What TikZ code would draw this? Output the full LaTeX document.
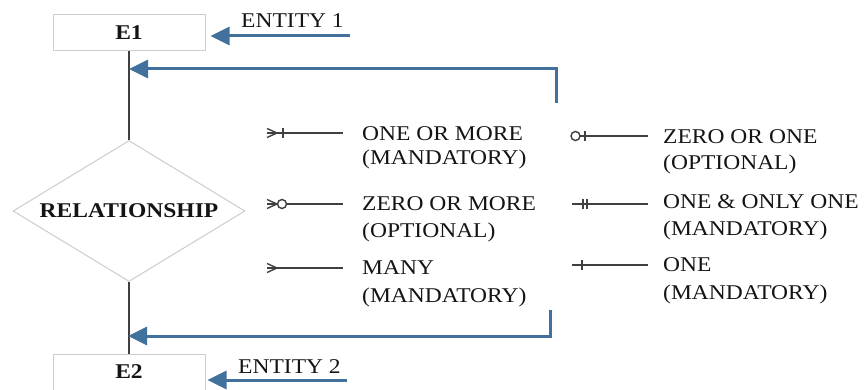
\documentclass[tikz,border=0pt]{standalone}
\usepackage{fontspec}
\setmainfont{Liberation Serif}[FakeStretch=1.12]
\usetikzlibrary{shapes.geometric,arrows.meta}
\definecolor{erblue}{RGB}{65,113,156}
\definecolor{erline}{RGB}{205,205,205}
\definecolor{ink}{RGB}{20,20,20}
\tikzset{
  entbox/.style={draw=erline,fill=white,line width=1pt,minimum width=152pt,minimum height=36pt,inner sep=0pt,text=ink,font=\bfseries\fontsize{21}{25}\selectfont},
  relbox/.style={diamond,draw=erline,fill=white,line width=1pt,aspect=1.645,minimum width=232pt,minimum height=141pt,inner sep=0pt,text=ink,font=\bfseries\fontsize{21}{25}\selectfont},
  lbl/.style={anchor=base west,inner sep=0pt,text=ink,font=\fontsize{21}{25}\selectfont},
  link/.style={draw=black!75,line width=1.5pt},
  sym/.style={draw=black!75,line width=1.4pt},
  back/.style={draw=erblue,line width=3pt,-{Triangle[length=19pt,width=18pt]}},
}
\begin{document}
\begin{tikzpicture}[x=1pt,y=-1pt]
  \useasboundingbox (0,0) rectangle (865,390);
  \def\crow{\draw[sym] (0,-4.5) -- (10,0) -- (0,4.5);}
  \def\tickmark#1{\draw[sym] (#1,-5) -- (#1,5);}
  \def\ring#1{\draw[sym,fill=white] (#1,0) circle (4.5);}
  % entities and relationship
  \node[entbox] (e1) at (129,32.5) {E1};
  \node[relbox] (rel) at (129,211) {RELATIONSHIP};
  \node[entbox] (e2) at (129,372) {E2};
  \draw[link] (e1) -- (rel);
  \draw[link] (rel) -- (e2);
  % blue pointers
  \node[lbl] (n1) at (241,28) {ENTITY 1};
  \node[lbl] (n2) at (238,373) {ENTITY 2};
  \coordinate (s1) at (350,36);
  \coordinate (s2) at (347,380);
  \draw[back,shorten >=5pt] (s1) -- (s1 -| e1.east);
  \draw[back,shorten >=2pt] (s2) -- (s2 -| e2.east);
  \coordinate (r1) at (556,103);
  \coordinate (t1) at (129,69);
  \coordinate (r2) at (550,310);
  \coordinate (t2) at (128,336);
  \draw[back] (r1) |- (t1);
  \draw[back] (r2) |- (t2);
  % legend, left column
  \begin{scope}[shift={(267,133)}]
    \draw[sym] (0,0) -- (76,0); \crow \tickmark{16}
  \end{scope}
  \begin{scope}[shift={(267,204)}]
    \draw[sym] (0,0) -- (76,0); \crow \ring{15}
  \end{scope}
  \begin{scope}[shift={(267,268)}]
    \draw[sym] (0,0) -- (76,0); \crow
  \end{scope}
  \node[lbl] (om1) at (362,140.5) {ONE OR MORE};
  \node[lbl] (om2) at (362,165) {(MANDATORY)};
  \node[lbl] (zm1) at (362,211) {ZERO OR MORE};
  \node[lbl] (zm2) at (362,238) {(OPTIONAL)};
  \node[lbl] (ma1) at (362,275) {MANY};
  \node[lbl] (ma2) at (362,302) {(MANDATORY)};
  % legend, right column
  \begin{scope}[shift={(571,136)}]
    \draw[sym] (9,0) -- (77,0); \ring{4.5} \tickmark{14}
  \end{scope}
  \begin{scope}[shift={(572,204)}]
    \draw[sym] (0,0) -- (76,0); \tickmark{11} \tickmark{15}
  \end{scope}
  \begin{scope}[shift={(572,265)}]
    \draw[sym] (0,0) -- (76,0); \tickmark{10}
  \end{scope}
  \node[lbl] (zo1) at (663,144) {ZERO OR ONE};
  \node[lbl] (zo2) at (663,170) {(OPTIONAL)};
  \node[lbl] (oo1) at (663,209) {ONE \& ONLY ONE};
  \node[lbl] (oo2) at (663,236) {(MANDATORY)};
  \node[lbl] (on1) at (663,272) {ONE};
  \node[lbl] (on2) at (663,299) {(MANDATORY)};
\end{tikzpicture}
\end{document}
